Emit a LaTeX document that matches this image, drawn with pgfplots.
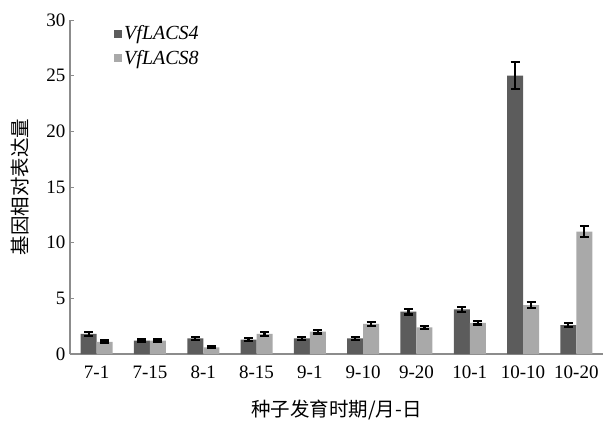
\documentclass[border=0pt]{standalone}
\usepackage{pgfplots}
\pgfplotsset{compat=1.18}
\usepackage{fontspec}
\setmainfont{Liberation Serif}
\newfontfamily\serifit{Liberation Serif}
\newfontfamily\cjk{Noto Sans CJK SC}
\definecolor{darkbar}{HTML}{5C5C5C}
\definecolor{lightbar}{HTML}{A9A9A9}
\definecolor{axgray}{HTML}{8C8C8C}
\begin{document}
\begin{tikzpicture}[x=1pt,y=1pt]
\begin{axis}[
  scale only axis,
  width=533pt, height=334pt,
  ybar=0pt, bar width=16pt,
  xmin=-0.5, xmax=9.5,
  ymin=0, ymax=30,
  ytick={0,5,...,30},
  xtick={0,...,9},
  xticklabels={7-1,7-15,8-1,8-15,9-1,9-10,9-20,10-1,10-10,10-20},
  extra x ticks={0.5,1.5,...,8.5},
  extra x tick labels={},
  extra x tick style={major tick length=5pt, tick align=inside, tick style={axgray, line width=1pt}},
  axis x line*=bottom, axis y line*=left,
  axis line style={axgray, line width=1.2pt, -},
  x tick style={draw=none},
  y tick style={axgray, line width=1pt},
  major tick length=4pt,
  tick align=inside,
  tick label style={font=\fontsize{19}{21}\selectfont},
  /pgf/number format/assume math mode=true,
  xticklabel style={yshift=-8pt},
  yticklabel style={xshift=-1pt},
  ylabel={\cjk 基因相对表达量},
  xlabel={\cjk 种子发育时期/月-日},
  every axis y label/.style={at={(axis description cs:-0.0938,0.5)}, rotate=90, anchor=center, font=\fontsize{19.5}{22}\selectfont},
  every axis x label/.style={at={(axis description cs:0.5,-0.1677)}, anchor=center, font=\fontsize{19.5}{22}\selectfont},
  legend style={draw=none, fill=none, at={(0.077,0.995)}, anchor=north west,
    font=\fontsize{20}{22}\selectfont\serifit\itshape, row sep=5pt,
    legend cell align=left},
  legend image code/.code={\draw[#1, draw=none] (0pt,-4pt) rectangle (8pt,4pt);},
]
\addplot[fill=darkbar, draw=none,
  error bars/.cd, y dir=both, y explicit,
  error bar style={black, line width=2.2pt},
  error mark options={rotate=90, mark size=4.5pt, line width=2.2pt, black}]
 coordinates {
 (0,1.8) +- (0,0.15)
 (1,1.2) +- (0,0.1)
 (2,1.4) +- (0,0.12)
 (3,1.3) +- (0,0.12)
 (4,1.4) +- (0,0.15)
 (5,1.4) +- (0,0.12)
 (6,3.8) +- (0,0.25)
 (7,4.0) +- (0,0.25)
 (8,25.0) +- (0,1.2)
 (9,2.6) +- (0,0.15)
};
\addplot[fill=lightbar, draw=none,
  error bars/.cd, y dir=both, y explicit,
  error bar style={black, line width=2.2pt},
  error mark options={rotate=90, mark size=4.5pt, line width=2.2pt, black}]
 coordinates {
 (0,1.1) +- (0,0.12)
 (1,1.2) +- (0,0.1)
 (2,0.6) +- (0,0.08)
 (3,1.8) +- (0,0.15)
 (4,2.0) +- (0,0.15)
 (5,2.7) +- (0,0.15)
 (6,2.4) +- (0,0.15)
 (7,2.8) +- (0,0.15)
 (8,4.4) +- (0,0.25)
 (9,11.0) +- (0,0.5)
};
\legend{VfLACS4,VfLACS8}
\end{axis}
\pgfresetboundingbox
\path (current axis.south west) ++(-70pt,-72pt) coordinate (bl);
\path (current axis.north east) ++(5pt,20pt) coordinate (tr);
\useasboundingbox (bl) rectangle (tr);
\end{tikzpicture}
\end{document}
